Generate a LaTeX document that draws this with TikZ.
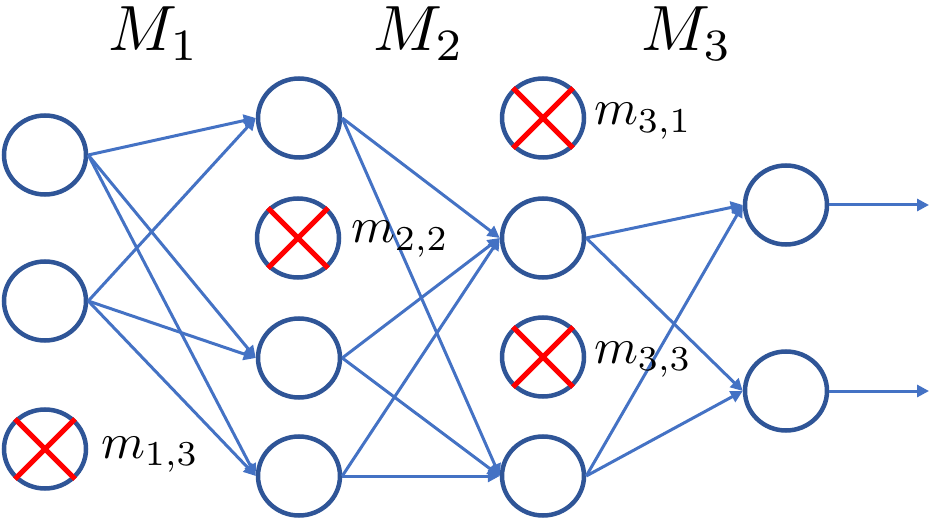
\documentclass[tikz,border=0pt]{standalone}
\usetikzlibrary{arrows.meta,shapes.geometric}
\definecolor{ringblue}{HTML}{2F5597}
\definecolor{edgeblue}{HTML}{4472C4}
\definecolor{crossred}{HTML}{FF0000}
\tikzset{
  neuron/.style={ellipse, draw=ringblue, line width=4.5pt, minimum width=82pt, minimum height=79pt, inner sep=0pt},
  conn/.style={draw=edgeblue, line width=3pt, -{Triangle[length=12pt,width=12pt]}},
  crossline/.style={draw=crossred, line width=5pt},
  biglab/.style={inner sep=0pt, anchor=base, scale=6.4},
  smalllab/.style={inner sep=0pt, anchor=base west, scale=5.0}
}
\begin{document}
\begin{tikzpicture}[x=1pt,y=-1pt]
\useasboundingbox (0,0) rectangle (931,518);
% layer 1
\node[neuron] (a1) at (45,155) {};
\node[neuron] (a2) at (45,301) {};
\node[neuron] (a3) at (45,449) {};
% layer 2
\node[neuron] (b1) at (299,118) {};
\node[neuron] (b2) at (298,238) {};
\node[neuron] (b3) at (299,358) {};
\node[neuron] (b4) at (299,476) {};
% layer 3
\node[neuron] (c1) at (543,118) {};
\node[neuron] (c2) at (543,238) {};
\node[neuron] (c3) at (543,357) {};
\node[neuron] (c4) at (543,476) {};
% layer 4
\node[neuron] (d1) at (786,205) {};
\node[neuron] (d2) at (786,391) {};
\coordinate (o1) at (929,205);
\coordinate (o2) at (929,391);
% crosses
\foreach \n in {a3,b2,c1,c3}{
  \draw[crossline] (\n.45) -- (\n.225);
  \draw[crossline] (\n.135) -- (\n.315);
}
% connections
\foreach \s in {a1,a2}{
  \foreach \t in {b1,b3,b4}{
    \draw[conn] (\s.east) -- (\t.west);
  }
}
\foreach \s in {b1,b3,b4}{
  \foreach \t in {c2,c4}{
    \draw[conn] (\s.east) -- (\t.west);
  }
}
\foreach \s in {c2,c4}{
  \foreach \t in {d1,d2}{
    \draw[conn] (\s.east) -- (\t.west);
  }
}
\draw[conn] (d1.east) -- (o1);
\draw[conn] (d2.east) -- (o2);
% labels
\node[biglab] (M1) at (154,51) {$M_1$};
\node[biglab] (M2) at (419,51) {$M_2$};
\node[biglab] (M3) at (687,51) {$M_3$};
\node[smalllab] (l13) at (100,458) {$m_{1,3}$};
\node[smalllab] (l22) at (350,243) {$m_{2,2}$};
\node[smalllab] (l31) at (593,125) {$m_{3,1}$};
\node[smalllab] (l33) at (593,363) {$m_{3,3}$};
\end{tikzpicture}
\end{document}
